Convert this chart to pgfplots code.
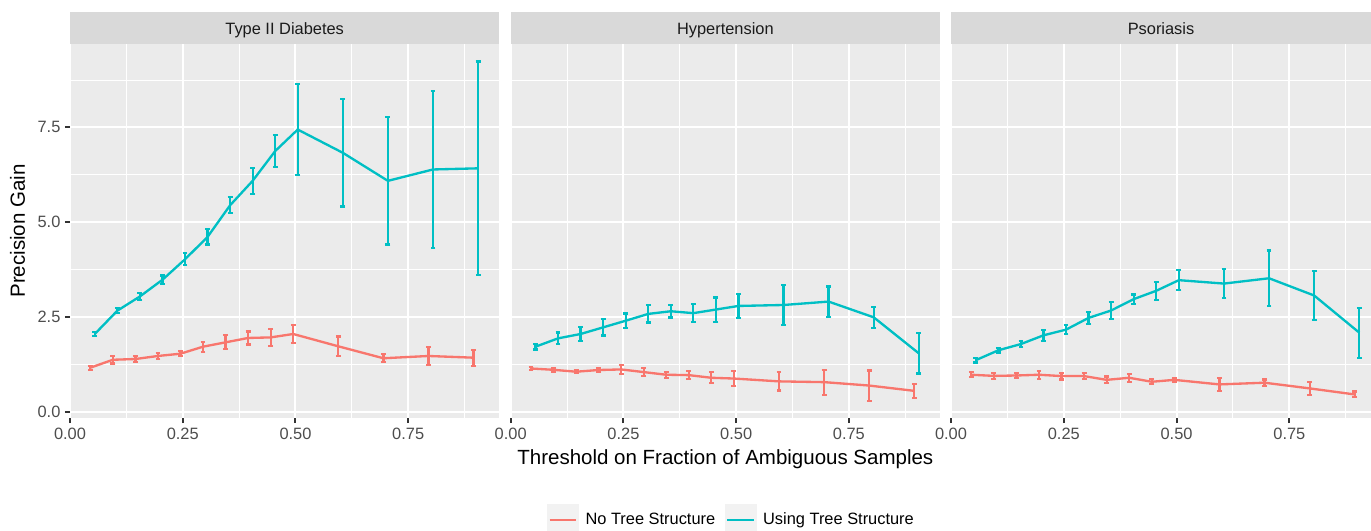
\documentclass[border=0pt]{standalone}
\usepackage{fontspec}
\setmainfont{Liberation Sans}
\usepackage{pgfplots}
\usepackage{pgfplotstable}
\pgfplotsset{compat=1.18}
\definecolor{cR}{HTML}{F8766D}
\definecolor{cB}{HTML}{00BFC4}
\definecolor{bg}{HTML}{EBEBEB}
\definecolor{stripc}{HTML}{D9D9D9}
\definecolor{g30}{HTML}{4D4D4D}
\definecolor{g20}{HTML}{333333}
\definecolor{g10}{HTML}{1A1A1A}
\definecolor{keybg}{HTML}{F2F2F2}
\def\u{0.5366pt}

% Type II Diabetes
\pgfplotstableread{
x y e
0.045 1.16 0.05
0.095 1.37 0.10
0.145 1.39 0.07
0.195 1.47 0.075
0.245 1.53 0.07
0.295 1.715 0.13
0.345 1.83 0.185
0.395 1.945 0.17
0.445 1.96 0.23
0.495 2.05 0.235
0.595 1.725 0.26
0.695 1.41 0.105
0.795 1.47 0.235
0.895 1.425 0.21
}\dRa
\pgfplotstableread{
x y e
0.055 2.05 0.05
0.105 2.665 0.07
0.155 3.04 0.10
0.205 3.48 0.11
0.255 4.02 0.16
0.305 4.61 0.20
0.355 5.445 0.21
0.405 6.09 0.34
0.455 6.875 0.42
0.505 7.443 1.195
0.605 6.83 1.415
0.705 6.09 1.68
0.805 6.39 2.07
0.905 6.42 2.82
}\dBa
% Hypertension
\pgfplotstableread{
x y e
0.045 1.14 0.03
0.095 1.105 0.05
0.145 1.055 0.04
0.195 1.10 0.06
0.245 1.115 0.12
0.295 1.045 0.10
0.345 0.975 0.08
0.395 0.965 0.10
0.445 0.895 0.145
0.495 0.875 0.19
0.595 0.80 0.24
0.695 0.78 0.33
0.795 0.69 0.40
0.895 0.55 0.18
}\dRb
\pgfplotstableread{
x y e
0.055 1.715 0.075
0.105 1.935 0.155
0.155 2.05 0.19
0.205 2.225 0.215
0.255 2.40 0.19
0.305 2.58 0.225
0.355 2.65 0.165
0.405 2.60 0.24
0.455 2.695 0.32
0.505 2.79 0.325
0.605 2.815 0.525
0.705 2.905 0.40
0.805 2.49 0.28
0.905 1.54 0.53
}\dBb
% Psoriasis
\pgfplotstableread{
x y e
0.045 0.975 0.065
0.095 0.945 0.08
0.145 0.955 0.065
0.195 0.975 0.105
0.245 0.94 0.09
0.295 0.94 0.08
0.345 0.84 0.09
0.395 0.895 0.105
0.445 0.79 0.065
0.495 0.84 0.055
0.595 0.72 0.165
0.695 0.765 0.085
0.795 0.615 0.165
0.895 0.455 0.075
}\dRc
\pgfplotstableread{
x y e
0.055 1.36 0.06
0.105 1.62 0.06
0.155 1.785 0.08
0.205 2.015 0.14
0.255 2.165 0.12
0.305 2.475 0.155
0.355 2.67 0.215
0.405 2.97 0.12
0.455 3.19 0.235
0.505 3.47 0.265
0.605 3.38 0.38
0.705 3.52 0.735
0.805 3.065 0.65
0.905 2.085 0.66
}\dBc

\pgfplotsset{
  panel/.style={
    scale only axis, anchor=south west,
    height=374*\u,
    xmin=0, ymin=-0.166, ymax=9.70,
    axis background/.style={fill=bg},
    axis line style={draw=none},
    grid=both,
    major grid style={white, line width=1.07pt},
    minor grid style={white, line width=0.53pt},
    xtick={0,0.25,0.5,0.75},
    xticklabels={0.00,0.25,0.50,0.75},
    minor xtick={0.125,0.375,0.625,0.875},
    ytick={0,2.5,5,7.5},
    minor ytick={1.25,3.75,6.25,8.75},
    tick pos=left,
    tick align=outside,
    major tick length=2.75pt,
    minor tick length=0pt,
    tick style={g20, line width=1.07pt},
    ticklabel style={font=\fontsize{8.8}{10}\selectfont, text=g30, inner sep=0pt},
    xticklabel style={anchor=north, yshift=-2.2pt},
    yticklabel style={anchor=east, xshift=-2.2pt},
  },
  ser/.style={#1, line width=1.25pt, mark=none,
    error bars/.cd, y dir=both, y explicit,
    error bar style={line width=1.2pt, #1},
    error mark options={rotate=90, line width=1.2pt, mark size=1.3pt, #1}},
}

\begin{document}
\begin{tikzpicture}
\useasboundingbox (0,0) rectangle (1371*\u,-531*\u);

\begin{axis}[panel, name=ax1, at={(70*\u,-418*\u)}, width=429.3*\u, xmax=0.952,
  yticklabels={0.0,2.5,5.0,7.5}]
\addplot[ser=cR] table[x=x,y=y,y error=e]{\dRa};
\addplot[ser=cB] table[x=x,y=y,y error=e]{\dBa};
\end{axis}

\begin{axis}[panel, name=ax2, at={(510.7*\u,-418*\u)}, width=429.3*\u, xmax=0.952,
  yticklabels={}, ymajorticks=false,
  legend style={at={(0.5163,-0.2727)}, anchor=center, draw=none, fill=none,
    font=\fontsize{8.8}{10}\selectfont, inner sep=0pt, row sep=0pt,
    /tikz/every odd column/.style={column sep=1.6pt},
    /tikz/every even column/.style={column sep=3.1pt}},
  legend columns=2]
\addplot[forget plot, ser=cR] table[x=x,y=y,y error=e]{\dRb};
\addplot[forget plot, ser=cB] table[x=x,y=y,y error=e]{\dBb};
\addlegendimage{legend image code/.code={\fill[keybg] (0pt,-8.6pt) rectangle (16.6pt,8.6pt); \draw[cR, line width=1.25pt] (1.1pt,0pt) -- (15.5pt,0pt);}}
\addlegendentry{No Tree Structure}
\addlegendimage{legend image code/.code={\fill[keybg] (0pt,-8.6pt) rectangle (16.6pt,8.6pt); \draw[cB, line width=1.25pt] (1.1pt,0pt) -- (15.5pt,0pt);}}
\addlegendentry{Using Tree Structure}
\end{axis}

\begin{axis}[panel, name=ax3, at={(951*\u,-418*\u)}, width=420*\u, xmax=0.931,
  yticklabels={}, ymajorticks=false]
\addplot[ser=cR] table[x=x,y=y,y error=e]{\dRc};
\addplot[ser=cB] table[x=x,y=y,y error=e]{\dBc};
\end{axis}

\foreach \a/\t in {ax1/Type II Diabetes, ax2/Hypertension, ax3/Psoriasis}{
  \fill[stripc] (\a.north west) rectangle ([yshift=32*\u]\a.north east);
  \node[anchor=base, text=g10, font=\fontsize{8.8}{10}\selectfont, inner sep=0pt]
    at ([yshift=9.7*\u]\a.north) {\t};
}

\node[rotate=90, anchor=base, font=\fontsize{11}{13}\selectfont, inner sep=0pt]
  at (25*\u,-231*\u) {Precision Gain};
\node[anchor=base, font=\fontsize{11}{13}\selectfont, inner sep=0pt]
  at (725.35*\u,-465*\u) {Threshold on Fraction of Ambiguous Samples};
\end{tikzpicture}
\end{document}
